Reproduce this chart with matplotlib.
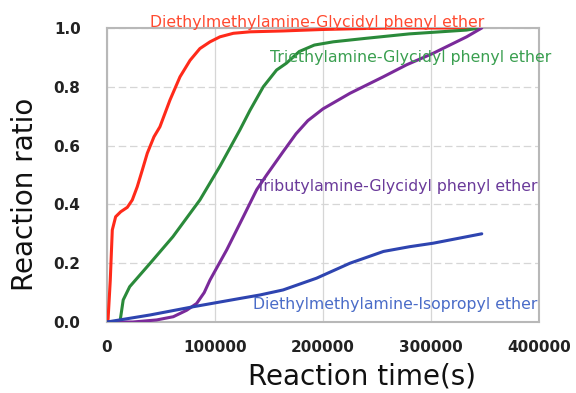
import numpy as np
import matplotlib
matplotlib.use("Agg")
import matplotlib.pyplot as plt

# reaction time (s) and reaction ratio for each amine / ether pair
t_red = [0, 1000, 3000, 4900, 8000, 12700, 18800, 23400, 28000, 32700, 37300,
         43500, 49000, 58300, 67600, 76900, 86000, 95400, 104600, 117000, 132400,
         163000, 200000, 260000, 345000]
r_red = [0, 0.01, 0.14, 0.313, 0.358, 0.375, 0.39, 0.415, 0.46, 0.517, 0.574,
         0.63, 0.664, 0.755, 0.834, 0.89, 0.93, 0.953, 0.97, 0.982, 0.987,
         0.99, 0.995, 1.0, 1.0]

t_green = [0, 12000, 13600, 15000, 21000, 40000, 61000, 86000, 104600, 123000,
           132400, 144700, 157000, 166000, 178000, 192000, 209500, 240000, 280000,
           333000, 345000]
r_green = [0, 0.0, 0.04, 0.075, 0.12, 0.20, 0.29, 0.415, 0.53, 0.653,
           0.72, 0.80, 0.857, 0.88, 0.92, 0.942, 0.953, 0.965, 0.98,
           0.993, 1.0]

t_purple = [0, 24000, 46000, 61400, 73800, 83000, 90000, 95400, 110800, 126200,
            138600, 147800, 163200, 175000, 186000, 200000, 225000, 255800, 277500,
            302000, 333000, 347000]
r_purple = [0, 0.0, 0.007, 0.018, 0.04, 0.063, 0.10, 0.143, 0.245, 0.358,
            0.45, 0.50, 0.58, 0.64, 0.685, 0.725, 0.778, 0.834, 0.875,
            0.914, 0.97, 1.0]

t_blue = [0, 40000, 80000, 123000, 141700, 163000, 194000, 225000, 256000, 280000, 302000, 347000]
r_blue = [0, 0.024, 0.052, 0.08, 0.092, 0.109, 0.149, 0.20, 0.24, 0.256, 0.268, 0.30]

names = ["Diethylmethylamine-Glycidyl phenyl ether",
         "Triethylamine-Glycidyl phenyl ether",
         "Tributylamine-Glycidyl phenyl ether",
         "Diethylmethylamine-Isopropyl ether"]

fig = plt.figure(figsize=(5.76, 3.93), dpi=100)
ax = fig.add_axes([107/576, 71/393, 432/576, 294/393])

style = dict(lw=2.2, zorder=3, solid_joinstyle="round", solid_capstyle="round")
ax.plot(t_red, r_red, color="#ff2a1a", **style)
ax.plot(t_green, r_green, color="#2a8a3a", **style)
ax.plot(t_purple, r_purple, color="#7a2a9a", **style)
ax.plot(t_blue, r_blue, color="#2e44b0", **style)

fs = 11.3
ax.text(40000, 1.02, names[0], color="#ff4a30", fontsize=fs, va="center", clip_on=False, zorder=4)
ax.text(151000, 0.90, names[1], color="#3a9f50", fontsize=fs, va="center", clip_on=False, zorder=4)
ax.text(138000, 0.46, names[2], color="#6a3a9a", fontsize=fs, va="center", clip_on=False, zorder=4)
ax.text(135000, 0.06, names[3], color="#4a6cc8", fontsize=fs, va="center", clip_on=False, zorder=4)

ax.set_xlim(0, 400000)
ax.set_ylim(0, 1.0)
ax.set_xticks([0, 100000, 200000, 300000, 400000])
ax.set_yticks([0, 0.2, 0.4, 0.6, 0.8, 1.0])
ax.set_yticklabels(["0.0", "0.2", "0.4", "0.6", "0.8", "1.0"])
ax.tick_params(axis="both", length=0, labelsize=11)
ax.tick_params(axis="y", pad=19)
ax.tick_params(axis="x", pad=13)
for lab in ax.get_xticklabels() + ax.get_yticklabels():
    lab.set_fontweight("bold")
    lab.set_color("#222222")

ax.grid(axis="y", color="#d6d6d6", lw=0.9, ls=(0, (6, 3)))
ax.grid(axis="x", color="#d6d6d6", lw=0.9)
for sp in ax.spines.values():
    sp.set_color("#b8b8b8")
    sp.set_linewidth(1.5)

# axis titles, placed in figure pixels
fig.text(362/576, 1 - 376/393, "Reaction time(s)", fontsize=20, color="#111111",
         ha="center", va="center")
fig.text(25/576, 1 - 194/393, "Reaction ratio", fontsize=20, color="#111111",
         ha="center", va="center", rotation=90)

fig.savefig("out.png", dpi=100)
